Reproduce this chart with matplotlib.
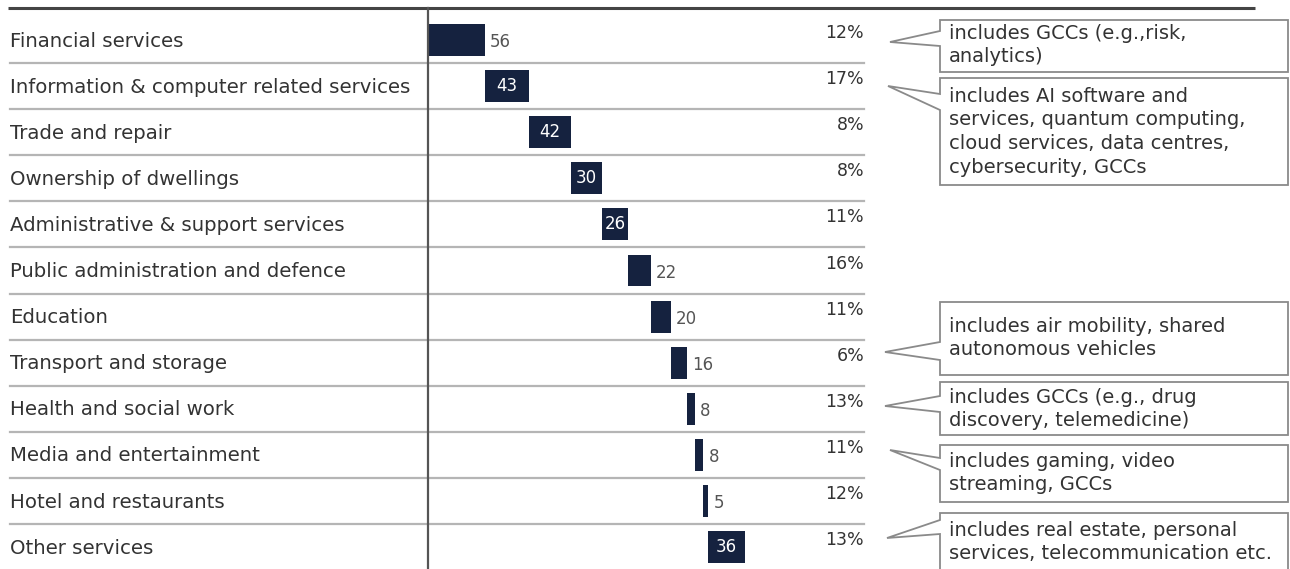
import matplotlib
matplotlib.use("Agg")
import matplotlib.pyplot as plt
from matplotlib.patches import Polygon

# Sector contributions (waterfall) and growth rates
categories = [
    "Financial services",
    "Information & computer related services",
    "Trade and repair",
    "Ownership of dwellings",
    "Administrative & support services",
    "Public administration and defence",
    "Education",
    "Transport and storage",
    "Health and social work",
    "Media and entertainment",
    "Hotel and restaurants",
    "Other services",
]
values = [56, 43, 42, 30, 26, 22, 20, 16, 8, 8, 5, 36]
growth = ["12%", "17%", "8%", "8%", "11%", "16%", "11%", "6%", "13%", "11%", "12%", "13%"]
label_inside = [False, True, True, True, True, False, False, False, False, False, False, True]

# Notes attached to some sectors
note_texts = [
    ["includes GCCs (e.g.,risk,", "analytics)"],
    ["includes AI software and", "services, quantum computing,",
     "cloud services, data centres,", "cybersecurity, GCCs"],
    ["includes air mobility, shared", "autonomous vehicles"],
    ["includes GCCs (e.g., drug", "discovery, telemedicine)"],
    ["includes gaming, video", "streaming, GCCs"],
    ["includes real estate, personal", "services, telecommunication etc."],
]

W, H = 1290, 569
FONT = "DejaVu Sans"
BAR = "#15223f"
TXT = "#333333"

fig = plt.figure(figsize=(W / 100, H / 100), dpi=100)
fig.patch.set_facecolor("white")

# Overlay axes in pixel coordinates for rules, labels and note boxes
lay = fig.add_axes([0, 0, 1, 1])
lay.set_xlim(0, W)
lay.set_ylim(H, 0)
lay.axis("off")

# Bar axes: x in value units, y in row index
x0_px, px_per_unit = 428, 1.016
row0_px, row_px = 40, 46.1
ax = fig.add_axes([x0_px / W, 0, (W - x0_px) / W, 1])
ax.set_xlim(0, (W - x0_px) / px_per_unit)
ax.set_ylim((H - row0_px) / row_px, -row0_px / row_px)
ax.axis("off")
ax.patch.set_alpha(0)

n = len(values)

# Top rule and row separators
lay.plot([8, 1255], [8, 8], color="#444444", lw=2.2, solid_capstyle="butt")
for i in range(n - 1):
    y = row0_px + (i + 0.5) * row_px
    lay.plot([10, 864], [y, y], color="#b5b5b5", lw=1.6)

# Category labels
for i, c in enumerate(categories):
    lay.text(10, row0_px + i * row_px + 1, c, fontsize=14.2, family=FONT,
             color=TXT, va="center", ha="left")

# Waterfall bars
starts = []
acc = 0
for v in values:
    starts.append(acc)
    acc += v
ypos = list(range(n))
ax.barh(ypos, values, left=starts, height=0.69, color=BAR, zorder=3)

for i, (s, v) in enumerate(zip(starts, values)):
    if label_inside[i]:
        ax.text(s + v / 2, i, str(v), color="white", fontsize=12, family=FONT,
                ha="center", va="center", zorder=4)
    else:
        ax.text(s + v + 5, i + 0.05, str(v), color="#555555", fontsize=12,
                family=FONT, ha="left", va="center", zorder=4)

# Axis line at zero
ax.plot([0, 0], [-0.7, n], color="#555555", lw=1.6, clip_on=False, zorder=5)

# Growth column
pct_x = (864 - x0_px) / px_per_unit
for i, g in enumerate(growth):
    ax.text(pct_x, i - 0.15, g, fontsize=12.5, family=FONT, color=TXT,
            ha="right", va="center")

# Note boxes with wedge pointers (pixel coordinates)
boxes = [
    # (top, bottom, tip_x, tip_y, attach_top, attach_bottom, first_line_y)
    (20, 72, 890, 42, 31, 46, 33),
    (78, 185, 888, 86, 94, 110, 96),
    (302, 375, 885, 352, 342, 360, 326),
    (382, 435, 885, 406, 396, 412, 397),
    (445, 502, 890, 450, 458, 470, 461),
    (513, 585, 887, 538, 520, 534, 530),
]
bx0, bx1 = 940, 1288
line_px = 23.8
for (top, bot, tx, ty, a1, a2, ly), lines in zip(boxes, note_texts):
    pts = [(bx0, top), (bx1, top), (bx1, bot), (bx0, bot), (bx0, a2), (tx, ty), (bx0, a1)]
    lay.add_patch(Polygon(pts, closed=True, facecolor="white", edgecolor="#8a8a8a",
                          lw=1.3, zorder=6))
    for k, line in enumerate(lines):
        lay.text(bx0 + 9, ly + k * line_px, line, fontsize=14, family=FONT,
                 color=TXT, ha="left", va="center", zorder=7)

fig.savefig("out.png", dpi=100, facecolor="white")
